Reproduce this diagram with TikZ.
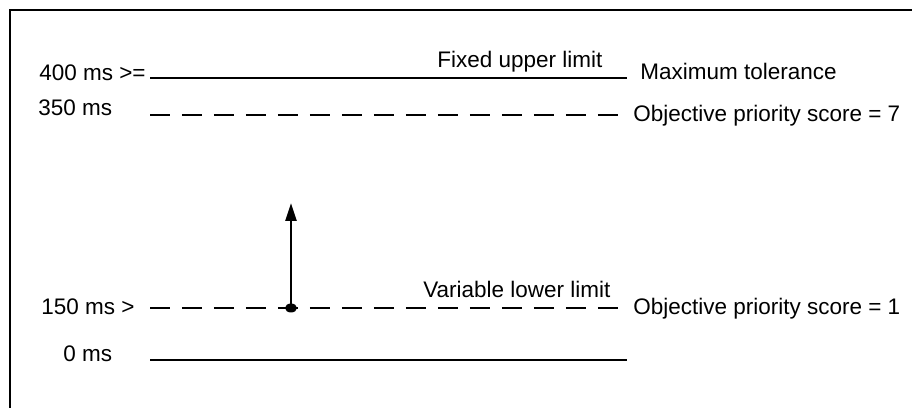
\documentclass[tikz,border=0pt]{standalone}
\usepackage{fontspec}
\setmainfont{Liberation Sans}
\usetikzlibrary{arrows.meta}
\begin{document}
\begin{tikzpicture}[x=0.02cm,y=-0.02cm,
    limit/.style={line width=1.45pt},
    dashlimit/.style={line width=1.45pt, dash pattern=on 0.4cm off 0.24cm},
    lbl/.style={inner sep=0pt, font=\fontsize{12.8}{14}\selectfont}]
  \useasboundingbox (0,0) rectangle (912,408);
  \clip (0,0) rectangle (912,408);
  % moldura
  \draw[line width=1.7pt] (10,10) rectangle (930,430);
  % limite superior fixo
  \coordinate (U1) at (150,78);
  \coordinate (U2) at (627,78);
  \draw[limit] (U1) -- (U2);
  \node[lbl, anchor=base west] (u) at (39,81) {400 ms >=};
  \node[lbl, anchor=base west] (uf) at (437,68) {Fixed upper limit};
  \node[lbl, anchor=base west] (ut) at (640,80) {Maximum tolerance};
  % 350 ms
  \coordinate (S1) at (150,115);
  \coordinate (S2) at (620,115);
  \draw[dashlimit] (S1) -- (S2);
  \node[lbl, anchor=base west] (s) at (38,115.5) {350 ms};
  \node[lbl, anchor=base west] (ss) at (633,122) {Objective priority score = 7};
  % limite inferior variavel
  \coordinate (L1) at (150,308);
  \coordinate (L2) at (620,308);
  \draw[dashlimit] (L1) -- (L2);
  \node[lbl, anchor=base west] (l) at (41,315) {150 ms >};
  \node[lbl, anchor=base west] (lv) at (423,297) {Variable lower limit};
  \node[lbl, anchor=base west] (ls) at (633,315) {Objective priority score = 1};
  % seta
  \coordinate (D) at (291,308);
  \coordinate (T) at (291,203);
  \fill (D) ellipse [x radius=0.12cm, y radius=0.09cm];
  \draw[limit, -{Triangle[length=0.36cm,width=0.22cm]}] (D) -- (T);
  % 0 ms
  \coordinate (Z1) at (150,360);
  \coordinate (Z2) at (627,360);
  \draw[limit] (Z1) -- (Z2);
  \node[lbl, anchor=base west] (z) at (63,361) {0 ms};
\end{tikzpicture}
\end{document}
